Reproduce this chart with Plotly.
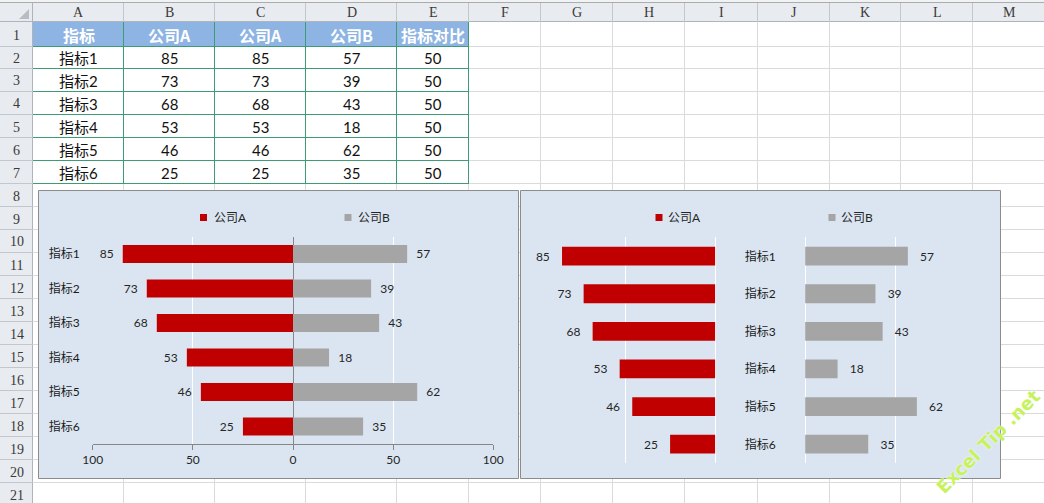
import plotly.graph_objects as go

# ---------------- data ----------------
categories = ["指标1", "指标2", "指标3", "指标4", "指标5", "指标6"]
company_a = [85, 73, 68, 53, 46, 25]
company_b = [57, 39, 43, 18, 62, 35]
contrast = [50, 50, 50, 50, 50, 50]
table_headers = ["指标", "公司A", "公司A", "公司B", "指标对比"]
legend_names = ["公司A", "公司B"]
axis1_tickvals = [-100, -50, 0, 50, 100]
axis1_ticktext = ["100", "50", "0", "50", "100"]
col_letters = ["A", "B", "C", "D", "E", "F", "G", "H", "I", "J", "K", "L", "M"]

# ---------------- layout constants ----------------
W, H = 1044, 503
RED = "#c00000"
GRAY = "#a5a5a5"
CHART_BG = "#dbe5f1"
PLOT_BG = "#c5d9f1"
BORDER = "#8c8c8c"
AXIS = "#868686"
GREEN = "#3d9c74"
HDR_BG = "#e8ebef"
HDR_LINE = "#c2c7ce"
GRID = "#dadada"
TXT = "#1a1a1a"
FONT = "Lato, Noto Sans CJK SC, sans-serif"
CJK = "Noto Sans CJK SC, sans-serif"
SERIF = "Liberation Serif, DejaVu Serif, serif"

col_edges = [33, 124, 215, 306, 397, 469, 541, 613, 685, 758, 830, 901, 973, 1045]
row_edges = [22, 47, 69, 92, 115, 138, 161, 184] + [184 + 23 * k for k in range(1, 15)]


def X(p):
    return p / W


def Y(p):
    return 1 - p / H


shapes = []
annotations = []


def rect(x0, y0, x1, y1, fill, line=None, lw=1):
    shapes.append(dict(type="rect", xref="paper", yref="paper",
                       x0=X(x0), x1=X(x1), y0=Y(y1), y1=Y(y0),
                       fillcolor=fill,
                       line=dict(color=line or "rgba(0,0,0,0)", width=lw if line else 0),
                       layer="below"))


def hline(y, x0, x1, color):
    shapes.append(dict(type="line", xref="paper", yref="paper",
                       x0=X(x0), x1=X(x1), y0=Y(y + 0.5), y1=Y(y + 0.5),
                       line=dict(color=color, width=1), layer="below"))


def vline(x, y0, y1, color):
    shapes.append(dict(type="line", xref="paper", yref="paper",
                       x0=X(x + 0.5), x1=X(x + 0.5), y0=Y(y0), y1=Y(y1),
                       line=dict(color=color, width=1), layer="below"))


def text(x, y, s, size, color=TXT, family=FONT, xanchor="center", angle=0):
    annotations.append(dict(xref="paper", yref="paper", x=X(x), y=Y(y), text=s,
                            showarrow=False, xanchor=xanchor, yanchor="middle",
                            textangle=angle,
                            font=dict(size=size, color=color, family=family)))


# ---------------- spreadsheet background ----------------
rect(0, 0, W, 3, "#f2f2f2")
rect(0, 3, W, 22, HDR_BG)
rect(0, 22, 33, H, HDR_BG)
hline(2, 0, W, "#a8adb4")
hline(21, 0, W, "#aeb4bc")
vline(32, 3, H, "#aeb4bc")
for x in col_edges[1:]:
    vline(x - 1, 3, 22, HDR_LINE)
for y in row_edges[1:]:
    hline(y - 1, 0, 33, HDR_LINE)
for x in col_edges[1:]:
    vline(x - 1, 22, H, GRID)
for y in row_edges[1:]:
    hline(y - 1, 33, W, GRID)
shapes.append(dict(type="path", xref="paper", yref="paper",
                   path=f"M {X(29)} {Y(9)} L {X(29)} {Y(19)} L {X(19)} {Y(19)} Z",
                   fillcolor="#b9bdc3", line=dict(width=0), layer="below"))

for i, letter in enumerate(col_letters):
    text((col_edges[i] + col_edges[i + 1]) / 2, 12.5, letter, 14, "#3a3a3a", SERIF)
for r in range(21):
    text(16.5, (row_edges[r] + row_edges[r + 1]) / 2 + 0.5, str(r + 1), 14, "#3a3a3a", SERIF)

# ---------------- table ----------------
rect(33, 22, 469, 47, "#8db4e2")
rect(33, 47, 469, 184, "#ffffff")
for x in col_edges[1:6]:
    vline(x - 1, 22, 184, GREEN)
for y in row_edges[1:8]:
    hline(y - 1, 33, 469, GREEN)

table_cols = [categories, company_a, company_a, company_b, contrast]
for j, head in enumerate(table_headers):
    cx = (col_edges[j] + col_edges[j + 1]) / 2
    text(cx, 35, f"<b>{head}</b>", 16, "#ffffff", CJK)
    for i, v in enumerate(table_cols[j]):
        text(cx, (row_edges[i + 1] + row_edges[i + 2]) / 2, str(v), 15, "#111111")

# ---------------- chart frames ----------------
rect(38.5, 190.5, 518.5, 478.5, CHART_BG, BORDER)
rect(520.5, 190.5, 1000.5, 478.5, CHART_BG, BORDER)

# legends (manual, Excel style)
for (sx, tx, col, name) in [(200, 212, RED, legend_names[0]), (344.5, 356, GRAY, legend_names[1]),
                            (655.5, 666, RED, legend_names[0]), (828.5, 839, GRAY, legend_names[1])]:
    rect(sx, 214, sx + 7, 221, col)
    text(tx, 217.5, name, 12, "#262626", FONT, xanchor="left")

# watermark
annotations.append(dict(xref="paper", yref="paper", x=X(988), y=Y(441),
                        text="<b>Excel Tip .net</b>", showarrow=False,
                        xanchor="center", yanchor="middle", textangle=-45,
                        font=dict(size=18, color="#c6f25c", family="DejaVu Sans, Liberation Sans, sans-serif",
                                  shadow="0px 0px 2px #ffffff")))

# ---------------- traces ----------------
sp1 = "\u00a0\u00a0"
sp2 = "\u00a0\u00a0\u00a0"
lbl_font = dict(size=12, color="#262626", family=FONT)

fig = go.Figure()
# chart 1 : butterfly on a symmetric axis
fig.add_trace(go.Bar(y=categories, x=[-v for v in company_a], orientation="h",
                     marker=dict(color=RED, line=dict(width=0)), width=0.52,
                     text=[f"{v}{sp1}" for v in company_a], textposition="outside",
                     textfont=lbl_font, constraintext="none", cliponaxis=False,
                     name=legend_names[0], showlegend=False, hoverinfo="skip",
                     xaxis="x", yaxis="y"))
fig.add_trace(go.Bar(y=categories, x=company_b, orientation="h",
                     marker=dict(color=GRAY, line=dict(width=0)), width=0.52,
                     text=[f"{sp1}{v}" for v in company_b], textposition="outside",
                     textfont=lbl_font, constraintext="none", cliponaxis=False,
                     name=legend_names[1], showlegend=False, hoverinfo="skip",
                     xaxis="x", yaxis="y"))

# chart 2 : A to the left, invisible spacer (指标对比) holding the labels, B after the spacer
fig.add_trace(go.Bar(y=categories, x=[-v for v in company_a], orientation="h",
                     marker=dict(color=RED, line=dict(width=0)), width=0.5,
                     text=[f"{v}{sp2}" for v in company_a], textposition="outside",
                     textfont=lbl_font, constraintext="none", cliponaxis=False,
                     name=legend_names[0], showlegend=False, hoverinfo="skip",
                     xaxis="x2", yaxis="y2"))
fig.add_trace(go.Bar(y=categories, x=contrast, base=0, orientation="h",
                     marker=dict(color="rgba(0,0,0,0)", line=dict(width=0)), width=0.5,
                     text=categories, textposition="inside", insidetextanchor="middle",
                     insidetextfont=dict(size=12, color="#1a1a1a", family=FONT),
                     constraintext="none", showlegend=False, hoverinfo="skip",
                     xaxis="x2", yaxis="y2"))
fig.add_trace(go.Bar(y=categories, x=company_b, base=contrast, orientation="h",
                     marker=dict(color=GRAY, line=dict(width=0)), width=0.5,
                     text=[f"{sp2}{v}" for v in company_b], textposition="outside",
                     textfont=lbl_font, constraintext="none", cliponaxis=False,
                     name=legend_names[1], showlegend=False, hoverinfo="skip",
                     xaxis="x2", yaxis="y2"))

fig.update_layout(
    width=W, height=H, autosize=False,
    margin=dict(l=0, r=0, t=0, b=0, pad=0, autoexpand=False),
    paper_bgcolor="#ffffff", plot_bgcolor=PLOT_BG,
    barmode="overlay", showlegend=False,
    font=dict(family=FONT, color=TXT),
    xaxis=dict(domain=[X(92.7), X(493.3)], range=[-100, 100], anchor="y",
               tickmode="array", tickvals=axis1_tickvals, ticktext=axis1_ticktext,
               showgrid=True, gridcolor="#ffffff", gridwidth=1,
               zeroline=True, zerolinecolor=AXIS, zerolinewidth=1,
               showline=True, linecolor=AXIS, linewidth=1,
               ticks="outside", ticklen=5, tickcolor=AXIS, tickwidth=1,
               tickfont=dict(size=12, color="#262626", family=FONT), fixedrange=True,
               automargin=False),
    yaxis=dict(domain=[Y(443.7), Y(236.7)], anchor="x", type="category",
               categoryorder="array", categoryarray=categories, autorange="reversed",
               showgrid=False, zeroline=False, showline=False, ticks="",
               ticklabelstandoff=12, automargin=False,
               tickfont=dict(size=12, color="#1a1a1a", family=FONT), fixedrange=True),
    xaxis2=dict(domain=[X(535), X(985.3)], range=[-100, 150], anchor="y2",
                tickmode="array", tickvals=[-50, 0, 50, 100], showticklabels=False,
                showgrid=True, gridcolor="#ffffff", gridwidth=1, automargin=False,
                zeroline=False, showline=False, ticks="", fixedrange=True),
    yaxis2=dict(domain=[Y(463), Y(237.3)], anchor="x2", type="category",
                categoryorder="array", categoryarray=categories, autorange="reversed",
                showgrid=False, zeroline=False, showline=False, ticks="", automargin=False,
                showticklabels=False, fixedrange=True),
    shapes=shapes,
    annotations=annotations,
)

fig.write_html("out.html",
               config={"displayModeBar": False, "staticPlot": True, "responsive": False},
               post_script="document.body.style.margin='0';document.body.style.padding='0';")
